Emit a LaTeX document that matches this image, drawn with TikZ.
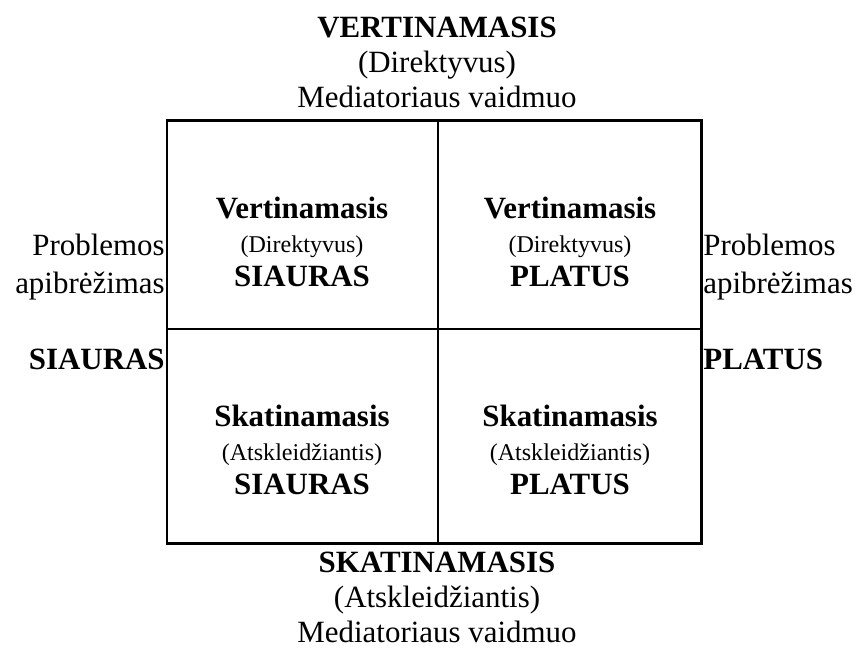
\documentclass[tikz,border=0pt]{standalone}
\usepackage{fontspec}
\setmainfont{Liberation Serif}

\newcommand{\bigtxt}{\fontsize{17.6}{19.9}\selectfont}
\newcommand{\smalltxt}{\fontsize{13.7}{16}\selectfont}

\begin{document}
\begin{tikzpicture}[x = 0.02cm, y = -0.02cm,
	title/.style = {align = center, font = \bigtxt, inner sep = 0pt},
	cell/.style = {align = center, font = \bigtxt, inner sep = 0pt},
	side/.style = {font = \bigtxt, inner sep = 0pt}]

	\useasboundingbox (0,0) rectangle (857,647);

	% the grid
	\draw[line width = 1.7pt] (167,120) rectangle (701,543);
	\draw[line width = 1.1pt] (438,120) -- (438,543);
	\draw[line width = 1.1pt] (167,329) -- (701,329);

	\draw (437,62) node[title] (top) {\textbf{VERTINAMASIS}\\(Direktyvus)\\Mediatoriaus vaidmuo};
	\draw (437,597) node[title] (bottom) {\textbf{SKATINAMASIS}\\(Atskleidžiantis)\\Mediatoriaus vaidmuo};

	\draw (302,242) node[cell] (vsiauras) {\textbf{Vertinamasis}\\[-0.5pt]
					 {\smalltxt (Direktyvus)}\\[-0.5pt]
					 \textbf{SIAURAS}};
	\draw (570,242) node[cell] (vplatus) {\textbf{Vertinamasis}\\[-0.5pt]
					 {\smalltxt (Direktyvus)}\\[-0.5pt]
					 \textbf{PLATUS}};
	\draw (302,450) node[cell] (ssiauras) {\textbf{Skatinamasis}\\[-0.5pt]
					 {\smalltxt (Atskleidžiantis)}\\[-0.5pt]
					 \textbf{SIAURAS}};
	\draw (570,450) node[cell] (splatus) {\textbf{Skatinamasis}\\[-0.5pt]
					 {\smalltxt (Atskleidžiantis)}\\[-0.5pt]
					 \textbf{PLATUS}};

	\draw (165,267) node[side, align = right, anchor = east] (lprob) {Problemos\\[2pt]apibrėžimas};
	\draw (165,359) node[side, anchor = east] (lsiauras) {\textbf{SIAURAS}};
	\draw (703,267) node[side, align = left, anchor = west] (rprob) {Problemos\\[2pt]apibrėžimas};
	\draw (703,359) node[side, anchor = west] (rplatus) {\textbf{PLATUS}};
\end{tikzpicture}
\end{document}
